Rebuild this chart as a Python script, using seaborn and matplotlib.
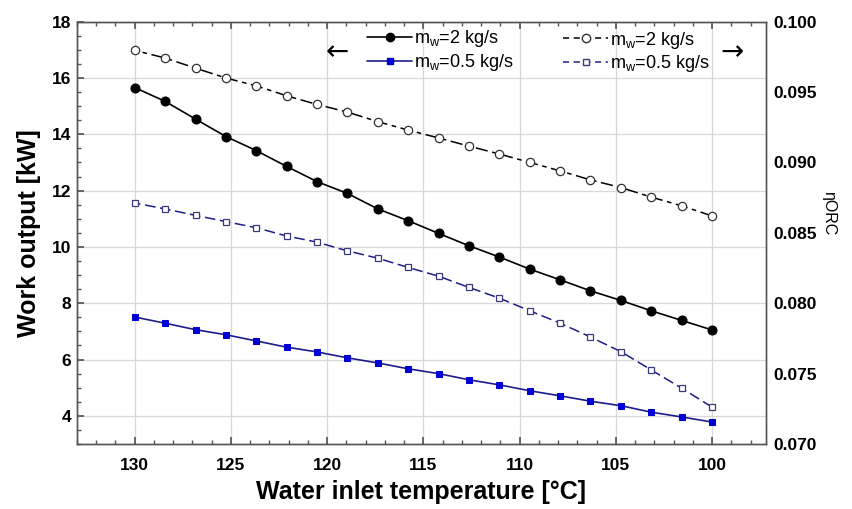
import matplotlib
matplotlib.use("Agg")
import matplotlib.pyplot as plt
import seaborn as sns
import numpy as np
import pandas as pd
from matplotlib.ticker import MultipleLocator, FormatStrFormatter
from matplotlib.lines import Line2D

# ---- data ----
temperature = [130.0, 128.42, 126.84, 125.26, 123.68, 122.11, 120.53, 118.95, 117.37, 115.79,
               114.21, 112.63, 111.05, 109.47, 107.89, 106.32, 104.74, 103.16, 101.58, 100.0]
work_2 = [15.66, 15.17, 14.54, 13.92, 13.42, 12.86, 12.32, 11.90, 11.35, 10.93,
          10.48, 10.04, 9.64, 9.21, 8.83, 8.44, 8.10, 7.73, 7.39, 7.05]
work_05 = [7.51, 7.29, 7.06, 6.88, 6.66, 6.44, 6.27, 6.06, 5.88, 5.67,
           5.50, 5.28, 5.10, 4.89, 4.71, 4.52, 4.36, 4.13, 3.96, 3.78]
eta_2 = [0.09796, 0.09742, 0.0967, 0.0960, 0.09544, 0.09474, 0.09412, 0.09358, 0.0929, 0.0923,
         0.09174, 0.09116, 0.0906, 0.0900, 0.0894, 0.08876, 0.08822, 0.08754, 0.08692, 0.0862]
eta_05 = [0.08712, 0.0867, 0.08624, 0.0858, 0.08536, 0.08478, 0.08434, 0.08372, 0.0832, 0.08254,
          0.08192, 0.08112, 0.08036, 0.07946, 0.07858, 0.0776, 0.07656, 0.07526, 0.07396, 0.07262]
labels = [r"m$_\mathregular{w}$=2 kg/s", r"m$_\mathregular{w}$=0.5 kg/s"]

sns.set_theme(style="white")
plt.rcParams['font.family'] = ['Liberation Sans', 'DejaVu Sans']
plt.rcParams['mathtext.fontset'] = 'custom'
plt.rcParams['mathtext.rm'] = 'Liberation Sans'
plt.rcParams['text.color'] = 'black'
plt.rcParams['axes.labelcolor'] = 'black'

W, H = 853, 509
fig = plt.figure(figsize=(W/100, H/100), dpi=100)
ax = fig.add_axes([77/W, 1-444/H, (766-77)/W, (444-21.7)/H])
ax2 = ax.twinx()

navy = '#1c1c8c'
blue = '#0000d4'

sns.lineplot(x=temperature, y=work_2, ax=ax, color='black', marker='o', markersize=6.5,
             markeredgecolor='black', linewidth=1.2, linestyle='-')
sns.lineplot(x=temperature, y=work_05, ax=ax, color=navy, marker='s', markersize=5,
             markerfacecolor=blue, markeredgecolor=blue, linewidth=1.2, linestyle='-')
sns.lineplot(x=temperature, y=eta_2, ax=ax2, color='black', marker='o', markersize=6,
             markerfacecolor='white', markeredgecolor='#333333', markeredgewidth=0.9,
             linewidth=1.1, linestyle=(0, (8, 3, 3, 3)))
sns.lineplot(x=temperature, y=eta_05, ax=ax2, color=navy, marker='s', markersize=5,
             markerfacecolor='white', markeredgecolor='#3a3a7a', markeredgewidth=0.9,
             linewidth=1.1, linestyle=(0, (7, 3)))

ax.set_xlim(133, 97.2)
ax.set_ylim(3, 18)
ax2.set_ylim(0.070, 0.100)

ax.xaxis.set_major_locator(MultipleLocator(5))
ax.xaxis.set_minor_locator(MultipleLocator(1))
ax.yaxis.set_major_locator(MultipleLocator(2))
ax.yaxis.set_minor_locator(MultipleLocator(0.5))
ax2.yaxis.set_major_locator(MultipleLocator(0.005))
ax2.yaxis.set_major_formatter(FormatStrFormatter('%.3f'))

ax.grid(True, which='major', color='#d8d8d8', linewidth=0.9)
ax.set_axisbelow(True)

for a in (ax, ax2):
    for s in a.spines.values():
        s.set_color('#555555')
        s.set_linewidth(1.0)

ax.tick_params(axis='x', which='both', direction='in', top=True, bottom=True,
               colors='#555555', labelcolor='black', labelsize=12.5, pad=10)
ax.tick_params(axis='x', which='major', length=5)
ax.tick_params(axis='x', which='minor', length=3)
ax.tick_params(axis='y', which='both', direction='in', left=True, right=False,
               colors='#555555', labelcolor='black', labelsize=12.5, pad=4)
ax.tick_params(axis='y', which='major', length=5)
ax.tick_params(axis='y', which='minor', length=3)
ax2.tick_params(axis='y', which='major', direction='in', length=0, labelsize=12.5,
                labelcolor='black', pad=5)

for lab in ax.get_xticklabels() + ax.get_yticklabels() + ax2.get_yticklabels():
    lab.set_fontweight('bold')

ax.set_xlabel("Water inlet temperature [°C]", fontsize=18, fontweight='bold', labelpad=5,
              color='black')
ax.set_ylabel("Work output [kW]", fontsize=18, fontweight='bold', labelpad=8, color='black')
ax2.set_ylabel("ηORC", fontsize=11.5, rotation=270, va='center', color='black')
ax2.yaxis.set_label_coords((829-77)/689, (444-213)/422.3)

# legends
h1 = Line2D([], [], color='black', marker='o', markersize=6, linewidth=1.2)
h2 = Line2D([], [], color=navy, marker='s', markersize=5, markerfacecolor=blue,
            markeredgecolor=blue, linewidth=1.2)
h3 = Line2D([], [], color='black', marker='o', markersize=6, markerfacecolor='white',
            markeredgecolor='#333333', linewidth=1.1, linestyle=(0, (4, 3)))
h4 = Line2D([], [], color=navy, marker='s', markersize=5, markerfacecolor='white',
            markeredgecolor='#3a3a7a', linewidth=1.1, linestyle=(0, (4, 3)))

leg1 = fig.legend([h1, h2], labels, loc='center left',
                  bbox_to_anchor=(367/W, 1-50.5/H), bbox_transform=fig.transFigure,
                  frameon=False, fontsize=13, handlelength=2.5, handletextpad=0.1,
                  labelspacing=0.15, borderaxespad=0, borderpad=0, labelcolor='black')
leg2 = fig.legend([h3, h4], labels, loc='center left',
                  bbox_to_anchor=(563/W, 1-52/H), bbox_transform=fig.transFigure,
                  frameon=False, fontsize=13, handlelength=2.5, handletextpad=0.1,
                  labelspacing=0.15, borderaxespad=0, borderpad=0, labelcolor='black')

fig.text(337/W, 1-52/H, "←", fontsize=20, ha='center', va='center', family='DejaVu Sans')
fig.text(732/W, 1-52/H, "→", fontsize=20, ha='center', va='center', family='DejaVu Sans')

fig.savefig("out.png", dpi=100)
